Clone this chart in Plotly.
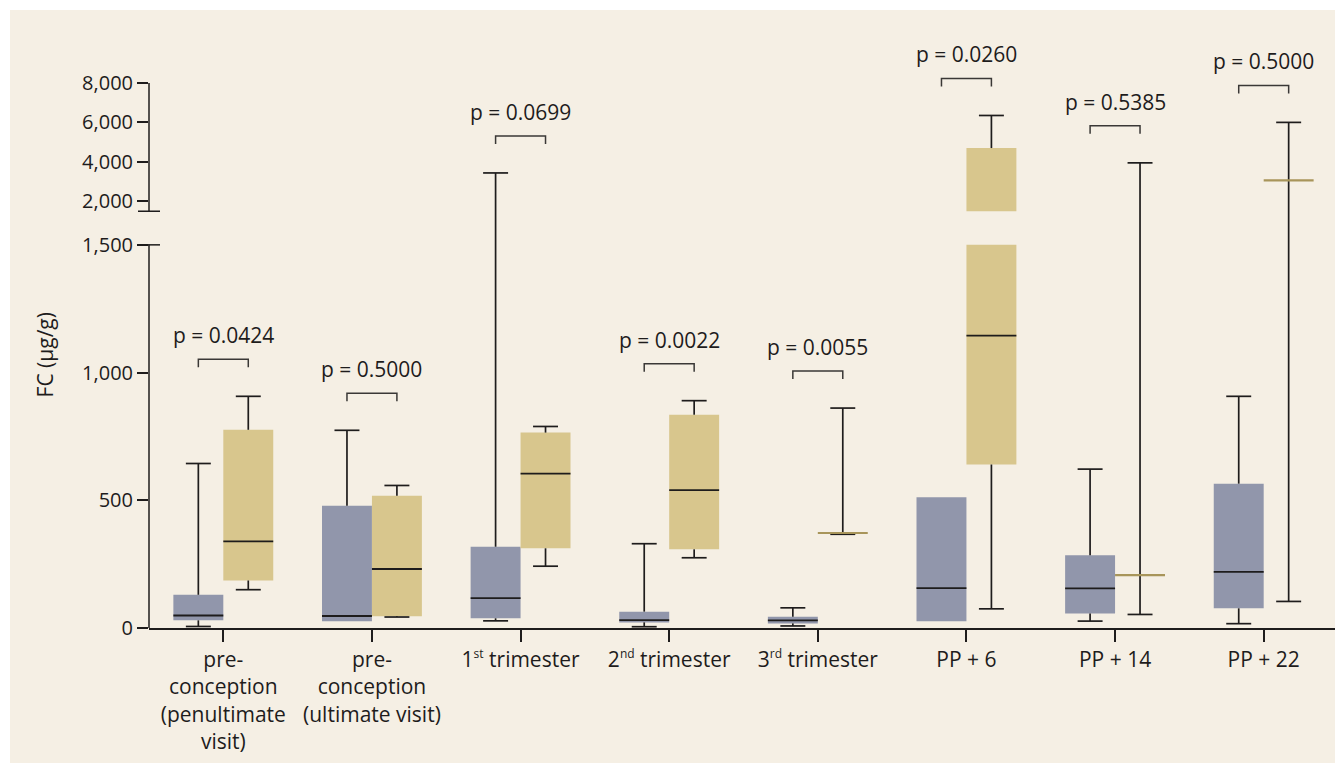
import plotly.graph_objects as go

# ---------------- data ----------------
SUP = '<sup><span style="font-size:12px">{}</span></sup>'
categories = [
    "pre-<br>conception<br>(penultimate<br>visit)",
    "pre-<br>conception<br>(ultimate visit)",
    "1" + SUP.format("st") + " trimester",
    "2" + SUP.format("nd") + " trimester",
    "3" + SUP.format("rd") + " trimester",
    "PP + 6",
    "PP + 14",
    "PP + 22",
]
p_values = ["p = 0.0424", "p = 0.5000", "p = 0.0699", "p = 0.0022",
            "p = 0.0055", "p = 0.0260", "p = 0.5385", "p = 0.5000"]

# series A (blue-grey boxes)
a_low = [6, 26, 28, 5, 8, 26, 27, 17]
a_q1 = [30, 26, 38, 22, 18, 26, 57, 77]
a_med = [49, 47, 117, 31, 30, 156, 155, 220]
a_q3 = [130, 479, 318, 64, 44, 512, 285, 565]
a_high = [644, 774, 3440, 330, 79, 512, 622, 907]

# series B (beige boxes)
b_low = [150, 43, 242, 275, 367, 75, 53, 104]
b_q1 = [186, 46, 312, 308, 372, 640, 207, 3060]
b_med = [339, 231, 604, 540, 372, 1145, 207, 3060]
b_q3 = [776, 518, 765, 835, 372, 4700, 207, 3060]
b_high = [907, 558, 789, 890, 861, 6350, 3950, 6000]

y_ticks = [0, 500, 1000, 1500, 2000, 4000, 6000, 8000]

# ---------------- broken-axis scale ----------------
BREAK = 1500          # top of lower segment / bottom of upper segment
GAP = 131.6           # empty band between the two segments (axis units)
K = 0.0773            # compression of the upper segment
PX = 0.2554           # pixels per axis unit (for pixel-based offsets)
Y_TOP = 2302          # axis range top
Y_AX_TOP = 8000


def tr(v):
    return v if v <= BREAK else BREAK + GAP + (v - BREAK) * K


# ---------------- style ----------------
BLUE = "#9196ab"
BEIGE = "#d8c68d"
BG = "#f5efe4"
INK = "#1e1c1c"
GOLD = "#a8955a"
FONT = "Open Sans"
OFF = 0.168          # half distance between paired boxes
W = 0.336            # box width
CAP = W / 2          # whisker cap width

fig = go.Figure()


def add_series(low, q1, med, q3, high, offset, color, name):
    xs, bases, heights = [], [], []
    for i in range(len(q1)):
        x = i + offset
        lo, hi = q1[i], q3[i]
        if hi == lo:
            continue
        if hi <= BREAK or lo >= BREAK:
            xs.append(x); bases.append(tr(lo)); heights.append(tr(hi) - tr(lo))
        else:
            xs.append(x); bases.append(tr(lo)); heights.append(BREAK - tr(lo))
            xs.append(x); bases.append(BREAK + GAP); heights.append(tr(hi) - BREAK - GAP)
    fig.add_trace(go.Bar(x=xs, y=heights, base=bases, width=W,
                         marker=dict(color=color, line=dict(width=0)),
                         name=name, showlegend=False, hoverinfo="skip"))
    # whiskers and caps
    lx, ly = [], []
    for i in range(len(q1)):
        x = i + offset
        if high[i] != q3[i]:
            lx += [x, x, None, x - CAP / 2, x + CAP / 2, None]
            ly += [tr(q3[i]), tr(high[i]), None, tr(high[i]), tr(high[i]), None]
        if low[i] != q1[i]:
            lx += [x, x, None, x - CAP / 2, x + CAP / 2, None]
            ly += [tr(q1[i]), tr(low[i]), None, tr(low[i]), tr(low[i]), None]
    fig.add_trace(go.Scatter(x=lx, y=ly, mode="lines",
                             line=dict(color=INK, width=1.7),
                             showlegend=False, hoverinfo="skip"))
    # medians
    mx, my, gx, gy = [], [], [], []
    for i in range(len(q1)):
        x = i + offset
        if q1[i] == q3[i]:
            gx += [x - W / 2, x + W / 2, None]
            gy += [tr(med[i]), tr(med[i]), None]
        else:
            mx += [x - W / 2, x + W / 2, None]
            my += [tr(med[i]), tr(med[i]), None]
    fig.add_trace(go.Scatter(x=mx, y=my, mode="lines",
                             line=dict(color=INK, width=1.8),
                             showlegend=False, hoverinfo="skip"))
    fig.add_trace(go.Scatter(x=gx, y=gy, mode="lines",
                             line=dict(color=GOLD, width=2.2),
                             showlegend=False, hoverinfo="skip"))


add_series(a_low, a_q1, a_med, a_q3, a_high, -OFF, BLUE, "A")
add_series(b_low, b_q1, b_med, b_q3, b_high, OFF, BEIGE, "B")

# significance brackets
bx, by = [], []
annotations = []
LIFT = 37 / PX
LEG = 8 / PX
for i, p in enumerate(p_values):
    yb = max(tr(a_high[i]), tr(b_high[i])) + LIFT
    bx += [i - OFF, i - OFF, i + OFF, i + OFF, None]
    by += [yb - LEG, yb, yb, yb - LEG, None]
    annotations.append(dict(x=i, y=yb, xref="x", yref="y", text=p,
                            showarrow=False, yanchor="middle", yshift=24,
                            font=dict(family=FONT, size=21, color=INK)))
fig.add_trace(go.Scatter(x=bx, y=by, mode="lines",
                         line=dict(color="#3a3836", width=1.5),
                         showlegend=False, hoverinfo="skip"))

# y-axis title
annotations.append(dict(x=0, xref="paper", xshift=-104, xanchor="center",
                        y=tr(Y_AX_TOP) / 2, yref="y", yanchor="middle",
                        text="FC (µg/g)", textangle=-90, showarrow=False,
                        font=dict(family=FONT, size=21, color=INK)))

shapes = [
    # outer panel
    dict(type="rect", xref="paper", yref="paper", x0=-0.1169, x1=1.01,
         y0=-0.2296, y1=1.051, fillcolor=BG, line=dict(width=0), layer="below"),
    # broken y axis line
    dict(type="line", xref="paper", yref="y", x0=0, x1=0, y0=0, y1=BREAK,
         line=dict(color=INK, width=1.5)),
    dict(type="line", xref="paper", yref="y", x0=0, x1=0, y0=BREAK + GAP,
         y1=tr(Y_AX_TOP), line=dict(color=INK, width=1.5)),
    # break marks
    dict(type="line", xref="paper", xsizemode="pixel", xanchor=0, x0=-11, x1=11,
         yref="y", y0=BREAK, y1=BREAK, line=dict(color=INK, width=1.5)),
    dict(type="line", xref="paper", xsizemode="pixel", xanchor=0, x0=-11, x1=11,
         yref="y", y0=BREAK + GAP, y1=BREAK + GAP, line=dict(color=INK, width=1.5)),
]

fig.update_layout(
    width=1335, height=757,
    margin=dict(l=141, r=5, t=32, b=137),
    paper_bgcolor="white",
    plot_bgcolor="rgba(0,0,0,0)",
    barmode="overlay",
    showlegend=False,
    annotations=annotations,
    shapes=shapes,
    font=dict(family=FONT, size=20, color=INK),
    xaxis=dict(range=[-0.5, 7.5], tickvals=list(range(len(categories))),
               ticktext=categories, ticks="outside", ticklen=12, tickwidth=1.5,
               tickcolor=INK, showline=True, linecolor=INK, linewidth=1.5,
               showgrid=False, zeroline=False,
               tickfont=dict(family=FONT, size=21, color=INK)),
    yaxis=dict(range=[0, Y_TOP], tickvals=[tr(v) for v in y_ticks],
               ticktext=[f"{v:,}" for v in y_ticks], ticks="outside", ticklen=11,
               tickwidth=1.5, tickcolor=INK, showline=False, showgrid=False,
               zeroline=False, tickfont=dict(family=FONT, size=20, color=INK)),
)

fig.write_html("out.html")
